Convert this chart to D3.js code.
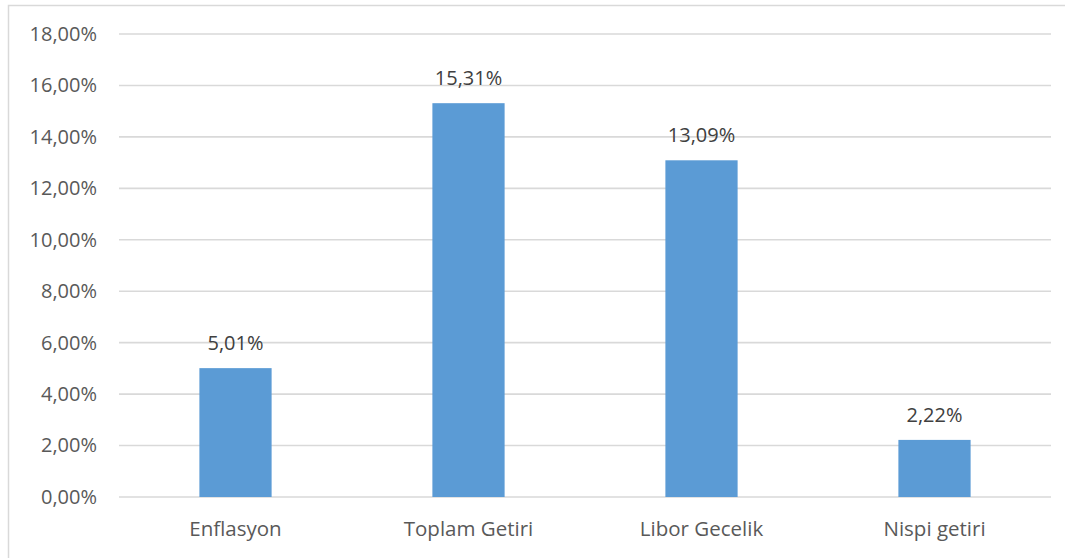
<!DOCTYPE html>
<html><head><meta charset="utf-8">
<script src="https://cdn.jsdelivr.net/npm/d3@7"></script>
<style>
html,body{margin:0;padding:0;background:#fff;}
svg text{font-family:"Open Sans","Noto Sans",sans-serif;}
</style></head>
<body><svg id="c" width="1065" height="558"></svg>
<script>
const categories = ["Enflasyon","Toplam Getiri","Libor Gecelik","Nispi getiri"];
const values = [5.01, 15.31, 13.09, 2.22];
const yTicks = [0,2,4,6,8,10,12,14,16,18];

const svg = d3.select("#c");
const m = {left:119, right:1051, top:34, bottom:497};
const fmt = v => v.toFixed(2).replace(".", ",") + "%";

// chart border
svg.append("path").attr("d","M8.5,558 L8.5,5.5 L1065,5.5")
  .attr("fill","none").attr("stroke","#d9d9d9").attr("stroke-width",1.5);

const x = d3.scaleBand().domain(categories).range([m.left, m.right]).paddingInner(0.69).paddingOuter(0.345);
const y = d3.scaleLinear().domain([0,18]).range([m.bottom, m.top]);

// gridlines
svg.append("g").selectAll("line").data(yTicks).join("line")
  .attr("x1", m.left).attr("x2", m.right)
  .attr("y1", d=>y(d)).attr("y2", d=>y(d))
  .attr("stroke","#d9d9d9").attr("stroke-width",1.6);

// y axis labels
const yAxis = d3.axisLeft(y).tickValues(yTicks).tickFormat(fmt).tickSize(0).tickPadding(0);
const ga = svg.append("g").attr("transform",`translate(97,0)`).call(yAxis);
ga.select(".domain").remove();
ga.selectAll("text").attr("fill","#595959").style("font-size","20px").style("font-family","'Open Sans','Noto Sans',sans-serif");

// bars
svg.append("g").selectAll("rect").data(values).join("rect")
  .attr("x",(d,i)=>x(categories[i])).attr("width",x.bandwidth())
  .attr("y",d=>y(d)).attr("height",d=>y(0)-y(d))
  .attr("fill","#5b9bd5");

// value labels
svg.append("g").selectAll("text").data(values).join("text")
  .attr("x",(d,i)=>x(categories[i])+x.bandwidth()/2)
  .attr("y",d=>y(d)-18)
  .attr("text-anchor","middle").attr("fill","#404040").style("font-size","20px")
  .text(fmt);

// x axis labels
const xAxis = d3.axisBottom(x).tickSize(0).tickPadding(0);
const gx = svg.append("g").attr("transform",`translate(0,${m.bottom})`).call(xAxis);
gx.select(".domain").remove();
gx.selectAll("text").attr("fill","#595959").attr("dy",null).attr("y",39)
  .style("font-size","20.5px").style("font-family","'Open Sans','Noto Sans',sans-serif");
</script></body></html>
